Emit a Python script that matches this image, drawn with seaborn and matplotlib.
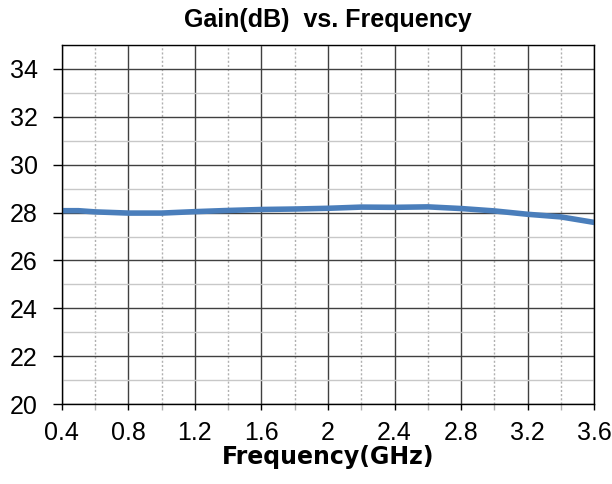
import numpy as np
import pandas as pd
import matplotlib
matplotlib.use("Agg")
import matplotlib.pyplot as plt
import seaborn as sns
from matplotlib.ticker import MultipleLocator

## Data
freq_ghz = [0.4, 0.5, 0.6, 0.8, 1.0, 1.2, 1.4, 1.6, 1.8, 2.0, 2.2, 2.4, 2.6, 2.8, 3.0, 3.2, 3.4, 3.6]
gain_db = [28.08, 28.08, 28.03, 27.98, 27.98, 28.04, 28.09, 28.13, 28.15, 28.18, 28.23, 28.22, 28.24, 28.17, 28.07, 27.93, 27.82, 27.59]
x_labels = ["0.4", "0.8", "1.2", "1.6", "2", "2.4", "2.8", "3.2", "3.6"]

df = pd.DataFrame({"Frequency": freq_ghz, "Gain": gain_db})

sns.set_theme(style="white")
plt.rcParams["font.family"] = ["Liberation Sans", "DejaVu Sans"]
plt.rcParams["text.color"] = "black"
plt.rcParams["xtick.color"] = "black"
plt.rcParams["ytick.color"] = "black"

fig = plt.figure(figsize=(6.12, 4.84), dpi=100)
ax = fig.add_axes([0.101, 0.165, 0.870, 0.742])

sns.lineplot(data=df, x="Frequency", y="Gain", ax=ax, color="#4a7ebb", linewidth=4)

ax.set_xlim(0.4, 3.6)
ax.set_ylim(20, 35)
ax.xaxis.set_minor_locator(MultipleLocator(0.2))
ax.yaxis.set_major_locator(MultipleLocator(2))
ax.yaxis.set_minor_locator(MultipleLocator(1))
ax.set_xticks(np.arange(0.4, 3.61, 0.4))
ax.set_xticklabels(x_labels)

ax.grid(which="major", axis="both", color="#404040", linewidth=1.0, linestyle="-")
ax.grid(which="minor", axis="x", color="#b0b0b0", linewidth=1.0, linestyle=(0, (1.5, 1.5)))
ax.grid(which="minor", axis="y", color="#c8c8c8", linewidth=1.0, linestyle="-")
ax.set_axisbelow(True)

for s in ax.spines.values():
    s.set_color("black")
    s.set_linewidth(1.0)

ax.tick_params(axis="y", which="major", direction="out", length=6.5, width=1,
               labelsize=18, pad=11, left=True, labelcolor="black")
ax.tick_params(axis="x", which="major", direction="out", length=4, width=1,
               labelsize=18, pad=8, bottom=True, labelcolor="black")
ax.tick_params(axis="x", which="minor", direction="out", length=4, width=1,
               color="#b0b0b0", bottom=True)
ax.tick_params(axis="y", which="minor", length=0)

ax.set_title("Gain(dB)  vs. Frequency", fontsize=18, fontweight="bold", pad=13)
ax.set_xlabel("Frequency(GHz)", fontsize=17, fontweight="bold", labelpad=0,
              family=["DejaVu Sans"], color="black")
ax.set_ylabel("")

plt.savefig("out.png", dpi=100)
